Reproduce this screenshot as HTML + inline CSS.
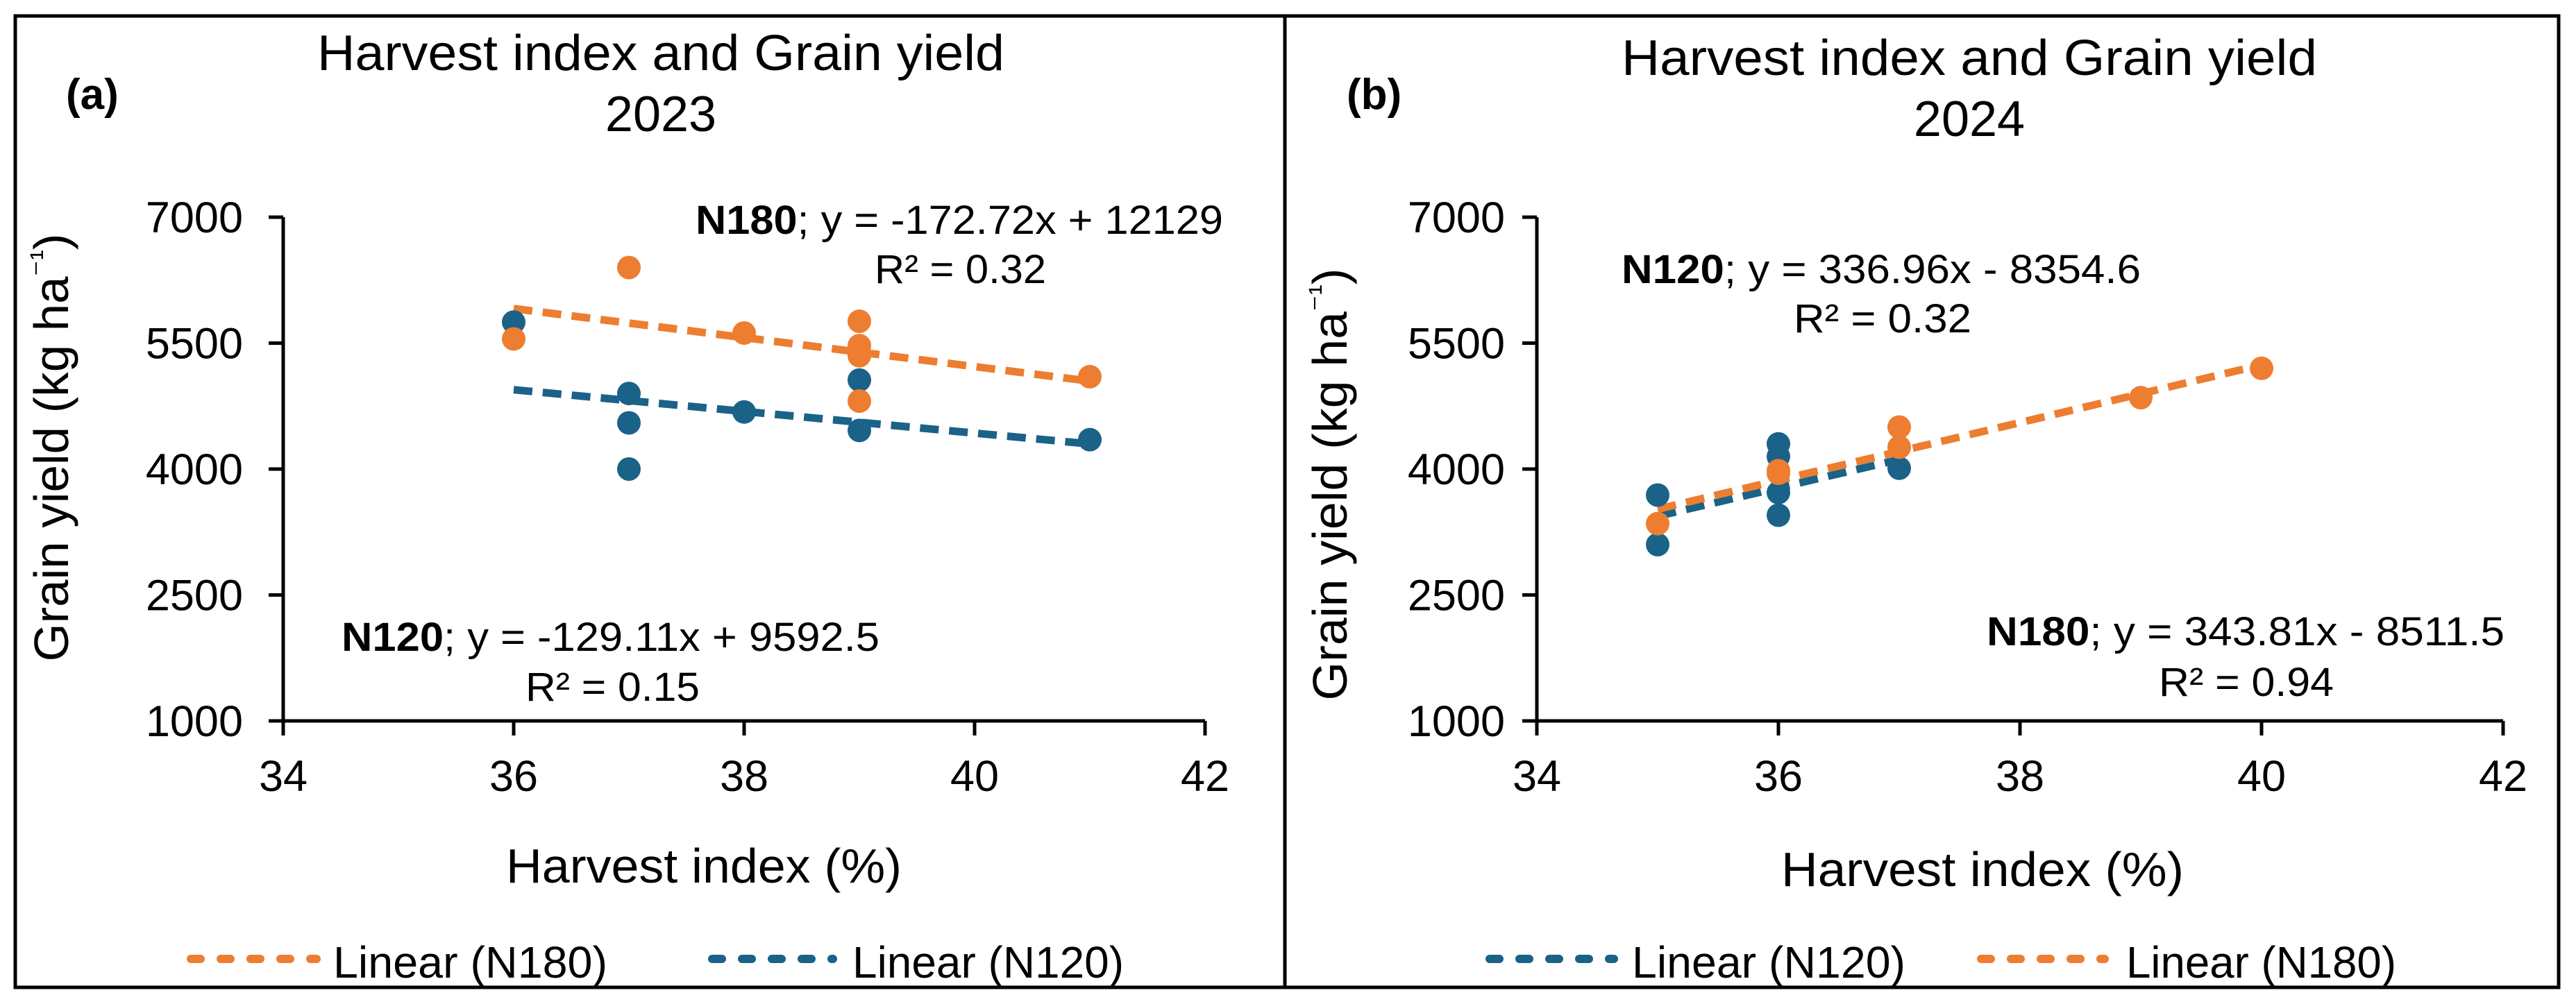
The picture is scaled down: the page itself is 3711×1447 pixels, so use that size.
<!DOCTYPE html>
<html><head><meta charset="utf-8"><style>
html,body{margin:0;padding:0;background:#fff;}
svg{display:block;font-family:"Liberation Sans",Arial,sans-serif;}
</style></head><body>
<svg id="fig" width="3711" height="1447" viewBox="0 0 3711 1447" xmlns="http://www.w3.org/2000/svg">
<rect x="0" y="0" width="3711" height="1447" fill="#fff"/>
<rect x="22" y="23" width="3664" height="1400" fill="none" stroke="#000" stroke-width="5"/>
<line x1="1851" y1="23" x2="1851" y2="1423" stroke="#000" stroke-width="5"/>
<g id="pa"></g>
<g id="pb"></g>
</svg>
<script>
// ---- data ----
const xTicks = [34, 36, 38, 40, 42];
const yTicks = [1000, 2500, 4000, 5500, 7000];
const a_N180_x = [36, 37, 38, 39, 39, 39, 39, 41];
const a_N180_y = [5550, 6400, 5620, 5760, 5470, 5350, 4810, 5100];
const a_N120_x = [36, 37, 37, 37, 38, 39, 39, 41];
const a_N120_y = [5750, 4900, 4550, 4000, 4680, 5060, 4460, 4350];
const b_N120_x = [35, 35, 36, 36, 36, 36, 37];
const b_N120_y = [3690, 3100, 4300, 4150, 3720, 3450, 4010];
const b_N180_x = [35, 36, 36, 37, 37, 39, 40];
const b_N180_y = [3350, 3980, 3950, 4500, 4260, 4850, 5200];
const a_fit180 = [-172.72, 12129];
const a_fit120 = [-129.11, 9592.5];
const b_fit120 = [336.96, -8354.6];
const b_fit180 = [343.81, -8511.5];

const NS = "http://www.w3.org/2000/svg";
const ORANGE = "#ED7D31", BLUE = "#1A6288";
function mk(parent, tag, attrs, text) {
  const e = document.createElementNS(NS, tag);
  for (const k in attrs) e.setAttribute(k, attrs[k]);
  if (text !== undefined) e.textContent = text;
  parent.appendChild(e);
  return e;
}

function panel(g, cfg) {
  const sx = v => cfg.x0 + (v - 34) * cfg.ux;
  const sy = v => 1039 - (v - 1000) * 0.121;
  // axes
  let e = mk(g, "line", {x1: sx(34), y1: sy(1000), x2: sx(42), y2: sy(1000), stroke: "#000", "stroke-width": 5});
  
  
  e = mk(g, "line", {x1: sx(34), y1: sy(1000) + 2, x2: sx(34), y2: sy(7000), stroke: "#000", "stroke-width": 5});
  
  
  xTicks.forEach(t => {
    const l = mk(g, "line", {x1: sx(t), y1: sy(1000), x2: sx(t), y2: sy(1000) + 21, stroke: "#000", "stroke-width": 5});
    
    
    const tx = mk(g, "text", {x: sx(t), y: 1140, "font-size": 63, "text-anchor": "middle"}, String(t));
    
    
  });
  yTicks.forEach(t => {
    const l = mk(g, "line", {x1: sx(34) - 21, y1: sy(t), x2: sx(34), y2: sy(t), stroke: "#000", "stroke-width": 5});
    
    
    const tx = mk(g, "text", {x: cfg.ylabX, y: sy(t) + 22, "font-size": 63, "text-anchor": "end"}, String(t));
    
    
  });
  // titles
  e = mk(g, "text", {x: cfg.pl[0], y: cfg.pl[1], "font-size": 62, "font-weight": "bold"}, cfg.label);
  
  
  e = mk(g, "text", {x: cfg.tx, y: cfg.t1, "font-size": 72, "text-anchor": "middle", textLength: cfg.tw, lengthAdjust: "spacingAndGlyphs"}, "Harvest index and Grain yield");
  
  
  e = mk(g, "text", {x: cfg.tx, y: cfg.t2, "font-size": 72, "text-anchor": "middle"}, cfg.year);
  
  
  e = mk(g, "text", {x: cfg.xt[0], y: cfg.xt[1], "font-size": 70, textLength: cfg.xt[2], lengthAdjust: "spacingAndGlyphs"}, "Harvest  index (%)");
  
  
  e = mk(g, "text", {x: 0, y: 0, "font-size": 70, "text-anchor": "middle", textLength: cfg.yt[3], lengthAdjust: "spacingAndGlyphs", transform: `translate(${cfg.yt[0]},${cfg.yt[1]}) rotate(-90)`});
  
  
  e.appendChild(document.createTextNode("Grain yield (kg ha"));
  const sup = mk(e, "tspan", {"font-size": 44, dy: -24}, "⁻¹");
  const rest = mk(e, "tspan", {"font-size": 70, dy: 24}, ")");
  // trend lines
  cfg.fits.forEach(f => {
    const [m, b] = f.coef;
    const l = mk(g, "line", {x1: sx(f.x1), y1: sy(m * f.x1 + b), x2: sx(f.x2), y2: sy(m * f.x2 + b), stroke: f.color, "stroke-width": 11, "stroke-dasharray": "27 15"});
    
    
  });
  // points
  cfg.series.forEach(s => {
    s.xs.forEach((xv, i) => {
      const c = mk(g, "circle", {cx: sx(xv), cy: sy(s.ys[i]), r: 17, fill: s.color});
      
      
    });
  });
  // annotations
  cfg.ann.forEach(a => {
    const t = mk(g, "text", {x: a.x, y: a.y, "font-size": 58, textLength: a.w, lengthAdjust: "spacingAndGlyphs"});
    
    
    mk(t, "tspan", {"font-weight": "bold"}, a.b);
    mk(t, "tspan", {}, a.rest);
    const r = mk(g, "text", {x: a.rx, y: a.ry, "font-size": 58, textLength: a.rw, lengthAdjust: "spacingAndGlyphs"}, a.r);
    
    
  });
  // legend
  cfg.legend.forEach(L => {
    const l = mk(g, "line", {x1: L.x1 + 6, y1: 1382, x2: L.x2 - 6, y2: 1382, stroke: L.color, "stroke-width": 12, "stroke-linecap": "round", "stroke-dasharray": "14 29"});
    
    
    const t = mk(g, "text", {x: L.tx, y: 1409, "font-size": 64, textLength: L.tw, lengthAdjust: "spacingAndGlyphs"}, L.text);
    
    
  });
}

panel(document.getElementById("pa"), {
  x0: 408, ux: 166, ylabX: 350, label: "(a)", pl: [95, 157], year: "2023",
  tx: 952, tw: 990, t1: 101, t2: 189,
  xt: [729, 1272, 570], yt: [98, 645, 0, 617],
  fits: [{coef: a_fit180, x1: 36, x2: 41, color: ORANGE, name: "trendline-n180"},
         {coef: a_fit120, x1: 36, x2: 41, color: BLUE, name: "trendline-n120"}],
  series: [{xs: a_N120_x, ys: a_N120_y, color: BLUE, name: "point-n120"},
           {xs: a_N180_x, ys: a_N180_y, color: ORANGE, name: "point-n180"}],
  ann: [{x: 1002, y: 337, w: 760, b: "N180", rest: "; y = -172.72x + 12129", rx: 1260, ry: 408, rw: 247, r: "R² = 0.32"},
        {x: 492, y: 938, w: 775, b: "N120", rest: "; y = -129.11x + 9592.5", rx: 757, ry: 1010, rw: 251, r: "R² = 0.15"}],
  legend: [{x1: 269, x2: 462, color: ORANGE, tx: 480, tw: 395, text: "Linear (N180)"},
           {x1: 1020, x2: 1206, color: BLUE, tx: 1228, tw: 391, text: "Linear (N120)"}]
});
panel(document.getElementById("pb"), {
  x0: 2214, ux: 174, ylabX: 2168, label: "(b)", pl: [1940, 157], year: "2024",
  tx: 2837, tw: 1002, t1: 108, t2: 196,
  xt: [2566, 1277, 580], yt: [1940, 698, 0, 623],
  fits: [{coef: b_fit120, x1: 35, x2: 37, color: BLUE, name: "trendline-n120"},
         {coef: b_fit180, x1: 35, x2: 40, color: ORANGE, name: "trendline-n180"}],
  series: [{xs: b_N120_x, ys: b_N120_y, color: BLUE, name: "point-n120"},
           {xs: b_N180_x, ys: b_N180_y, color: ORANGE, name: "point-n180"}],
  ann: [{x: 2336, y: 408, w: 748, b: "N120", rest: "; y = 336.96x - 8354.6", rx: 2584, ry: 479, rw: 256, r: "R² = 0.32"},
        {x: 2862, y: 930, w: 746, b: "N180", rest: "; y = 343.81x - 8511.5", rx: 3110, ry: 1003, rw: 252, r: "R² = 0.94"}],
  legend: [{x1: 2140, x2: 2331, color: BLUE, tx: 2351, tw: 394, text: "Linear (N120)"},
           {x1: 2848, x2: 3038, color: ORANGE, tx: 3063, tw: 389, text: "Linear (N180)"}]
});
</script>
</body></html>
